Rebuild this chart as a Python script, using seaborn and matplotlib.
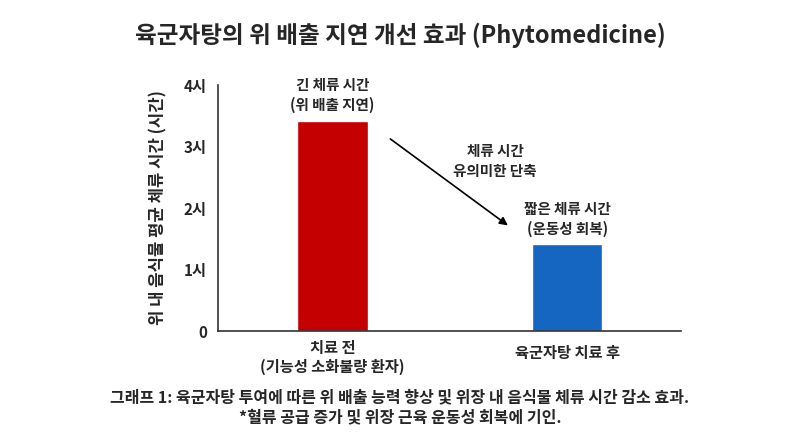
import pandas as pd
import matplotlib
matplotlib.use("Agg")
import matplotlib.pyplot as plt
import seaborn as sns

# data
groups = ["치료 전\n(기능성 소화불량 환자)", "육군자탕 치료 후"]
hours = [3.42, 1.41]
bar_notes = ["긴 체류 시간\n(위 배출 지연)", "짧은 체류 시간\n(운동성 회복)"]
bar_colors = ["#C40000", "#1466C0"]
y_ticks = [0, 1, 2, 3, 4]
y_tick_labels = ["0", "1시", "2시", "3시", "4시"]

sns.set_theme(style="white")
plt.rcParams["font.family"] = ["Noto Sans CJK KR", "DejaVu Sans"]
plt.rcParams["font.weight"] = "bold"

df = pd.DataFrame({"group": groups, "hours": hours})

fig = plt.figure(figsize=(8, 4.36), dpi=100)
ax = fig.add_axes([0.2725, 0.2408, 0.579, 0.5642])

sns.barplot(data=df, x="group", y="hours", hue="group", palette=bar_colors,
            width=0.30, legend=False, saturation=1, ax=ax)

ax.set_xlim(-0.488, 1.486)
ax.set_ylim(0, 4)
ax.set_yticks(y_ticks)
ax.set_yticklabels(y_tick_labels, fontsize=11, fontweight="bold")
ax.tick_params(axis="y", length=4, width=1, color="#333333", pad=4)
ax.tick_params(axis="x", length=0, pad=8)
for lbl, yy in zip(ax.get_xticklabels(), [-0.062, -0.046]):
    lbl.set_fontsize(11)
    lbl.set_fontweight("bold")
    lbl.set_verticalalignment("center")
    lbl.set_y(yy)

sns.despine(ax=ax)
for side in ["left", "bottom"]:
    ax.spines[side].set_color("#333333")
    ax.spines[side].set_linewidth(1.2)

ax.set_xlabel("")
ax.set_ylabel("위 내 음식물 평균 체류 시간 (시간)", fontsize=12, fontweight="bold", labelpad=12)

for i, (h, note) in enumerate(zip(hours, bar_notes)):
    ax.text(i, h + 0.12, note, ha="center", va="bottom", fontsize=10.5,
            fontweight="bold", linespacing=1.3)

ax.annotate("", xy=(0.757, 1.69), xytext=(0.237, 3.15),
            arrowprops=dict(arrowstyle="-|>", color="black", lw=1.2, mutation_scale=12))
ax.text(0.693, 2.76, "체류 시간\n유의미한 단축", ha="center", va="center",
        fontsize=10.5, fontweight="bold", linespacing=1.3)

fig.text(0.5, 0.92, "육군자탕의 위 배출 지연 개선 효과 (Phytomedicine)",
         ha="center", va="center", fontsize=17, fontweight="bold")
fig.text(0.5, 0.065, "그래프 1: 육군자탕 투여에 따른 위 배출 능력 향상 및 위장 내 음식물 체류 시간 감소 효과.\n"
         "*혈류 공급 증가 및 위장 근육 운동성 회복에 기인.",
         ha="center", va="center", fontsize=11.5, fontweight="bold", linespacing=1.3)

fig.savefig("out.png", dpi=100, facecolor="white")
